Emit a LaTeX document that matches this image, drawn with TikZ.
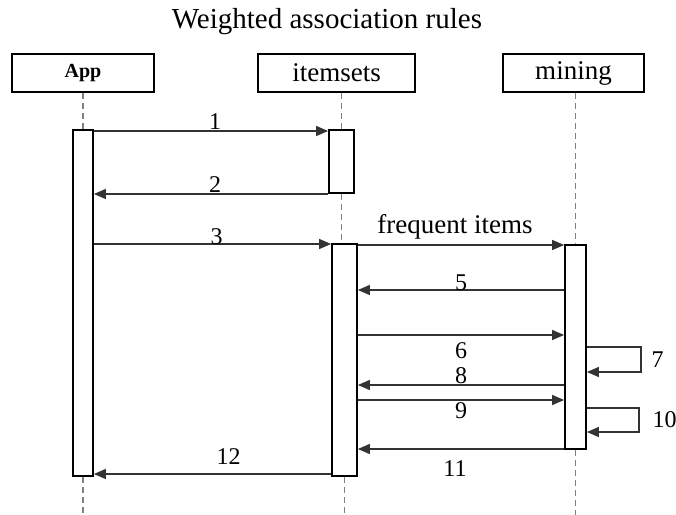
\documentclass[tikz,border=0pt]{standalone}
\usepackage{fontspec}
\setmainfont{Liberation Serif}
\usetikzlibrary{arrows.meta,fit,positioning}

\begin{document}
\begin{tikzpicture}[x=0.5pt,y=-0.5pt,font=\fontsize{13.5}{16}\selectfont,
	head/.style={draw,line width=0.8pt,minimum height=19pt,inner sep=0pt},
	bar/.style={draw,line width=0.9pt,fill=white,inner sep=0pt},
	life/.style={gray,line width=0.8pt,dash pattern=on 3pt off 2pt},
	msg/.style={-{Triangle[length=6pt,width=5pt]},line width=0.7pt,black!80},
	lbl/.style={inner sep=0pt,black,font=\fontsize{12}{14}\selectfont}]
	\useasboundingbox (0,0) rectangle (676,515);
	\node[font=\fontsize{14.5}{17}\selectfont] (title) at (327,22) {Weighted association rules};
	% objects
	\node[head,minimum width=71pt]   (app)    at (83,73)    {\fontsize{10}{12}\selectfont\bfseries App};
	\node[head,minimum width=78.5pt] (items)  at (336.5,73) {itemsets};
	\node[head,minimum width=70.5pt] (mining) at (573.5,73) {mining};
	% activations
	\node[bar,fit={(73,130) (93,476)}]   (appbar) {};
	\node[bar,fit={(329,130) (354,193)}] (itbarA) {};
	\node[bar,fit={(332,244) (357,476)}] (itbarB) {};
	\node[bar,fit={(565,245) (586,449)}] (minbar) {};
	% lifelines
	\coordinate (bot) at (0,515);
	\draw[life] (app.south) -- (appbar.north);
	\draw[life] (itbarA.north |- items.south) -- (itbarA.north);
	\draw[life] (itbarA.south) -- (itbarA.south |- itbarB.north);
	\draw[life] (minbar.north |- mining.south) -- (minbar.north);
	\draw[life] (appbar.south) -- (appbar.south |- bot);
	\draw[life] (itbarB.south) -- (itbarB.south |- bot);
	\draw[life] (minbar.south) -- (minbar.south |- bot);
	% messages
	\foreach \y/\from/\to/\txt/\dy/\dx in {
		131/appbar.east/itbarA.west/1/4.5/2,
		194/itbarA.west/appbar.east/2/4.5/2,
		244/appbar.east/itbarB.west/3/3.5/2,
		290/minbar.west/itbarB.east/5/3.5/0,
		335/itbarB.east/minbar.west/6/-8/0,
		385/minbar.west/itbarB.east/8/4.5/0,
		400/itbarB.east/minbar.west/9/-5.5/0,
		449/minbar.west/itbarB.east/11/-10/-3,
		474/itbarB.west/appbar.east/12/8.5/8}{
	  \coordinate (lvl) at (0,\y);
	  \draw[msg] (\from |- lvl) -- (\to |- lvl)
	    node[lbl,midway,yshift=\dy pt,xshift=\dx pt] {\txt};
	}
	\coordinate (c4) at (0,245);
	\draw[msg] (itbarB.east |- c4) -- (minbar.west |- c4)
	  node[midway,inner sep=0pt,black,yshift=9pt,xshift=-3pt] {frequent items};
	% self calls
	\coordinate (c7a) at (0,347);
	\coordinate (c7b) at (0,372);
	\coordinate (c10a) at (0,408);
	\coordinate (c10b) at (0,432);
	\draw[msg] (minbar.east |- c7a) -- (641,347) -- (641,372)
	  node[lbl,midway,right=5pt] {7} -- (minbar.east |- c7b);
	\draw[msg] (minbar.east |- c10a) -- (639,408) -- (639,432)
	  node[lbl,midway,right=6.5pt] {10} -- (minbar.east |- c10b);
\end{tikzpicture}
\end{document}
